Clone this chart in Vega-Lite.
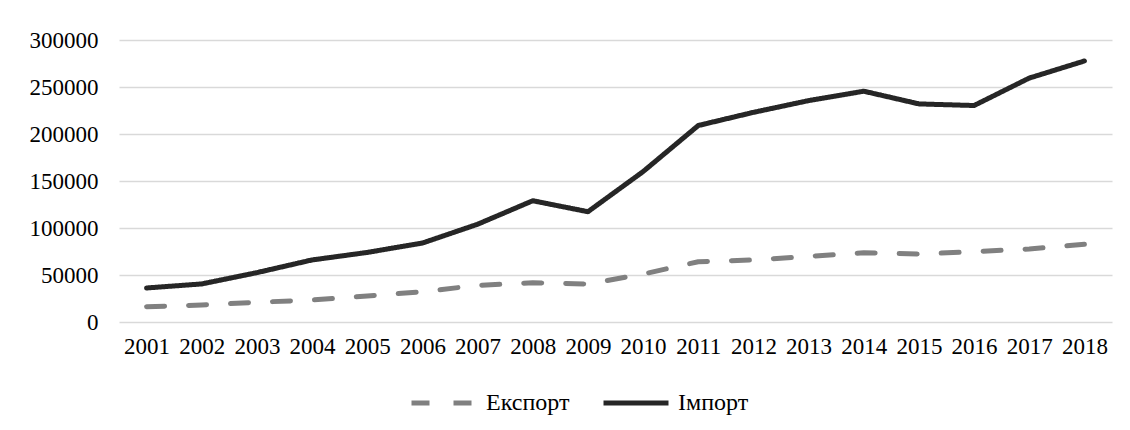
{
  "$schema": "https://vega.github.io/schema/vega-lite/v6.json",
  "autosize": "none",
  "width": 993,
  "height": 282,
  "padding": {"left": 119, "top": 40, "right": 18, "bottom": 108},
  "background": "#ffffff",
  "config": {
    "font": "Liberation Serif",
    "view": {"stroke": null},
    "axis": {"labelFont": "Liberation Serif", "labelFontSize": 23, "labelColor": "#000000", "ticks": false, "domain": false},
    "legend": {"labelFont": "Liberation Serif", "labelFontSize": 24, "labelColor": "#000000"}
  },
  "data": {
    "values": [
      {"year": "2001", "series": "Експорт", "value": 16300},
      {"year": "2002", "series": "Експорт", "value": 18100},
      {"year": "2003", "series": "Експорт", "value": 21000},
      {"year": "2004", "series": "Експорт", "value": 23400},
      {"year": "2005", "series": "Експорт", "value": 27700},
      {"year": "2006", "series": "Експорт", "value": 32200},
      {"year": "2007", "series": "Експорт", "value": 39000},
      {"year": "2008", "series": "Експорт", "value": 41800},
      {"year": "2009", "series": "Експорт", "value": 40400},
      {"year": "2010", "series": "Експорт", "value": 51000},
      {"year": "2011", "series": "Експорт", "value": 64100},
      {"year": "2012", "series": "Експорт", "value": 66000},
      {"year": "2013", "series": "Експорт", "value": 69800},
      {"year": "2014", "series": "Експорт", "value": 73700},
      {"year": "2015", "series": "Експорт", "value": 72300},
      {"year": "2016", "series": "Експорт", "value": 74800},
      {"year": "2017", "series": "Експорт", "value": 77700},
      {"year": "2018", "series": "Експорт", "value": 82700},
      {"year": "2001", "series": "Імпорт", "value": 36200},
      {"year": "2002", "series": "Імпорт", "value": 40500},
      {"year": "2003", "series": "Імпорт", "value": 52500},
      {"year": "2004", "series": "Імпорт", "value": 66000},
      {"year": "2005", "series": "Імпорт", "value": 74000},
      {"year": "2006", "series": "Імпорт", "value": 84000},
      {"year": "2007", "series": "Імпорт", "value": 104000},
      {"year": "2008", "series": "Імпорт", "value": 129000},
      {"year": "2009", "series": "Імпорт", "value": 117300},
      {"year": "2010", "series": "Імпорт", "value": 160000},
      {"year": "2011", "series": "Імпорт", "value": 209000},
      {"year": "2012", "series": "Імпорт", "value": 223000},
      {"year": "2013", "series": "Імпорт", "value": 235500},
      {"year": "2014", "series": "Імпорт", "value": 245500},
      {"year": "2015", "series": "Імпорт", "value": 232000},
      {"year": "2016", "series": "Імпорт", "value": 230300},
      {"year": "2017", "series": "Імпорт", "value": 259500},
      {"year": "2018", "series": "Імпорт", "value": 277700}
    ]
  },
  "mark": {"type": "line", "strokeWidth": 5, "strokeCap": "round", "strokeJoin": "round"},
  "encoding": {
    "x": {"field": "year", "type": "ordinal", "title": null, "axis": {"labelAngle": 0, "labelPadding": 13, "grid": false}},
    "y": {"field": "value", "type": "quantitative", "title": null,
      "scale": {"domain": [0, 300000], "nice": false},
      "axis": {"values": [0, 50000, 100000, 150000, 200000, 250000, 300000], "format": "d", "labelPadding": 21, "grid": true, "gridColor": "#d9d9d9", "gridWidth": 1.5}},
    "color": {"field": "series", "type": "nominal", "title": null,
      "scale": {"domain": ["Експорт", "Імпорт"], "range": ["#808080", "#262626"]},
      "legend": {"orient": "none", "legendX": 290, "legendY": 328, "direction": "horizontal", "symbolType": "stroke", "symbolSize": 4225, "symbolStrokeWidth": 5, "labelOffset": 7, "columnPadding": 23}},
    "strokeDash": {"field": "series", "type": "nominal",
      "scale": {"domain": ["Експорт", "Імпорт"], "range": [[18, 24], [1, 0]]}}
  }
}
